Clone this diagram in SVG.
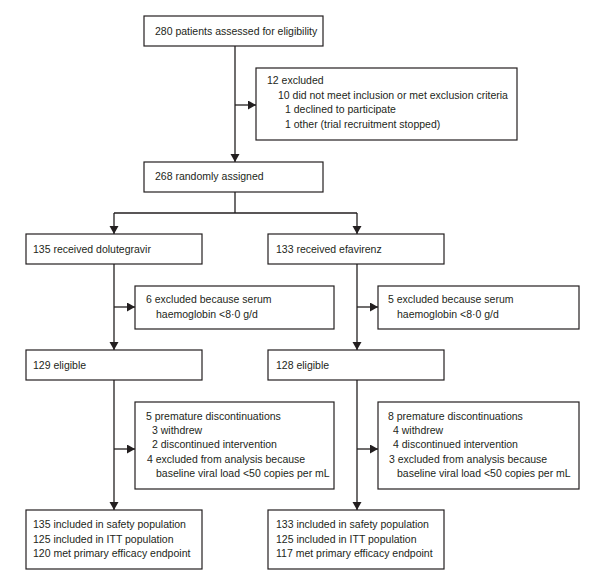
<svg xmlns="http://www.w3.org/2000/svg" width="591" height="583" viewBox="0 0 591 583">
<style>
rect{fill:#fff;stroke:#231f20;stroke-width:1.2}
text{font-family:"Liberation Sans",Arial,sans-serif;font-size:10.5px;fill:#231f20}
.c line,.c path{stroke:#231f20;stroke-width:1.3;fill:none}
</style>
<defs>
<marker id="ah" markerUnits="userSpaceOnUse" markerWidth="9" markerHeight="10" refX="8" refY="4.5" orient="auto">
<path d="M0,0 L8,4.5 L0,9 z" fill="#231f20"/>
</marker>
</defs>
<rect x="0" y="0" width="591" height="583" style="stroke:none"/>
<g class="c" id="connectors">
<line x1="235" y1="46" x2="235" y2="162" marker-end="url(#ah)"/>
<line x1="235" y1="105" x2="256" y2="105" marker-end="url(#ah)"/>
<path d="M235,192 V213 M114,213 H357"/>
<line x1="114" y1="213" x2="114" y2="234" marker-end="url(#ah)"/>
<line x1="357" y1="213" x2="357" y2="234" marker-end="url(#ah)"/>
<line x1="114" y1="264" x2="114" y2="350" marker-end="url(#ah)"/>
<line x1="114" y1="307" x2="135" y2="307" marker-end="url(#ah)"/>
<line x1="357" y1="264" x2="357" y2="350" marker-end="url(#ah)"/>
<line x1="357" y1="307" x2="378" y2="307" marker-end="url(#ah)"/>
<line x1="114" y1="380" x2="114" y2="510" marker-end="url(#ah)"/>
<line x1="114" y1="449" x2="135" y2="449" marker-end="url(#ah)"/>
<line x1="357" y1="380" x2="357" y2="510" marker-end="url(#ah)"/>
<line x1="357" y1="449" x2="378" y2="449" marker-end="url(#ah)"/>
</g>
<g id="assessed">
<rect x="144" y="16" width="179" height="30"/>
<text x="155" y="35">280 patients assessed for eligibility</text>
</g>
<g id="excluded1">
<rect x="256" y="68" width="261" height="72"/>
<text x="267" y="84">12 excluded</text>
<text x="278" y="98.5">10 did not meet inclusion or met exclusion criteria</text>
<text x="285" y="113">1 declined to participate</text>
<text x="285" y="127.5">1 other (trial recruitment stopped)</text>
</g>
<g id="randomised">
<rect x="144" y="162" width="179" height="30"/>
<text x="155" y="180">268 randomly assigned</text>
</g>
<g id="dtg">
<rect x="26" y="234" width="176" height="30"/>
<text x="33" y="253">135 received dolutegravir</text>
</g>
<g id="efv">
<rect x="268" y="234" width="176" height="30"/>
<text x="276" y="253">133 received efavirenz</text>
</g>
<g id="excl-dtg">
<rect x="135" y="286" width="199" height="43"/>
<text x="146" y="303">6 excluded because serum</text>
<text x="156" y="318">haemoglobin &lt;8·0 g/d</text>
</g>
<g id="excl-efv">
<rect x="378" y="286" width="201" height="43"/>
<text x="388" y="303">5 excluded because serum</text>
<text x="397" y="318">haemoglobin &lt;8·0 g/d</text>
</g>
<g id="elig-dtg">
<rect x="26" y="350" width="176" height="30"/>
<text x="33" y="369">129 eligible</text>
</g>
<g id="elig-efv">
<rect x="268" y="350" width="176" height="30"/>
<text x="276" y="369">128 eligible</text>
</g>
<g id="disc-dtg">
<rect x="135" y="402" width="199" height="87"/>
<text x="146" y="419.5">5 premature discontinuations</text>
<text x="152" y="434">3 withdrew</text>
<text x="152" y="448">2 discontinued intervention</text>
<text x="147" y="462.5">4 excluded from analysis because</text>
<text x="156" y="477">baseline viral load &lt;50 copies per mL</text>
</g>
<g id="disc-efv">
<rect x="378" y="402" width="201" height="87"/>
<text x="388" y="419.5">8 premature discontinuations</text>
<text x="393" y="434">4 withdrew</text>
<text x="393" y="448">4 discontinued intervention</text>
<text x="389" y="462.5">3 excluded from analysis because</text>
<text x="397" y="477">baseline viral load &lt;50 copies per mL</text>
</g>
<g id="final-dtg">
<rect x="26" y="510" width="176" height="59"/>
<text x="33" y="528">135 included in safety population</text>
<text x="33" y="542.5">125 included in ITT population</text>
<text x="33" y="557">120 met primary efficacy endpoint</text>
</g>
<g id="final-efv">
<rect x="268" y="510" width="176" height="59"/>
<text x="276" y="528">133 included in safety population</text>
<text x="276" y="542.5">125 included in ITT population</text>
<text x="276" y="557">117 met primary efficacy endpoint</text>
</g>
</svg>
